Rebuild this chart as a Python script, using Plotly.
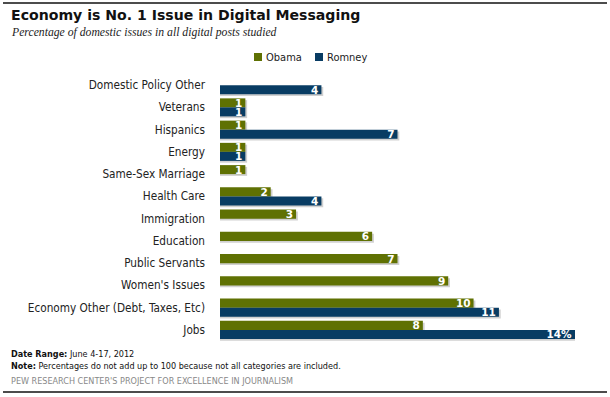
import plotly.graph_objects as go

categories = ["Domestic Policy Other", "Veterans", "Hispanics", "Energy", "Same-Sex Marriage",
              "Health Care", "Immigration", "Education", "Public Servants", "Women's Issues",
              "Economy Other (Debt, Taxes, Etc)", "Jobs"]
obama = [None, 1, 1, 1, 1, 2, 3, 6, 7, 9, 10, 8]
romney = [4, 1, 7, 1, None, 4, None, None, None, None, 11, 14]

OLIVE = "#5f7103"
NAVY = "#083c63"
SHADOW = "rgba(150,150,150,0.45)"

W, H = 610, 397
L, R, T, B = 220, 35, 74, 56
PW, PH = W - L - R, H - T - B

def X(px):
    return (px - L) / PW

def Y(py):
    return (H - B - py) / PH

def lab(vals, last_pct=False):
    out = []
    for i, v in enumerate(vals):
        if v is None:
            out.append("")
        else:
            s = str(v)
            if last_pct and i == len(vals) - 1:
                s += "%"
            out.append(s)
    return out

def shadow_vals(vals):
    return [None if v is None else v + 0.07 for v in vals]

BW = 0.405
SH = 0.08

fig = go.Figure()
fig.add_trace(go.Bar(y=categories, x=shadow_vals(obama), orientation="h", offset=-BW + SH, width=BW,
                     marker=dict(color=SHADOW, line=dict(width=0)), hoverinfo="skip"))
fig.add_trace(go.Bar(y=categories, x=shadow_vals(romney), orientation="h", offset=SH, width=BW,
                     marker=dict(color=SHADOW, line=dict(width=0)), hoverinfo="skip"))
bar_font = dict(family="DejaVu Sans", size=10.5, color="white", weight="bold")
fig.add_trace(go.Bar(y=categories, x=obama, orientation="h", name="Obama", offset=-BW, width=BW,
                     marker=dict(color=OLIVE, line=dict(width=0)),
                     text=lab(obama), textposition="inside", insidetextanchor="end", textangle=0,
                     textfont=bar_font, constraintext="none", cliponaxis=False))
fig.add_trace(go.Bar(y=categories, x=romney, orientation="h", name="Romney", offset=0, width=BW,
                     marker=dict(color=NAVY, line=dict(width=0)),
                     text=lab(romney, True), textposition="inside", insidetextanchor="end", textangle=0,
                     textfont=bar_font, constraintext="none", cliponaxis=False))

SANS = "DejaVu Sans Condensed, DejaVu Sans"
ann = []
ann.append(dict(text="<b>Economy is No. 1 Issue in Digital Messaging</b>", x=X(9), y=Y(15),
                xanchor="left", yanchor="middle",
                font=dict(family="DejaVu Sans", size=14.1, color="#111")))
ann.append(dict(text="<i>Percentage of domestic issues in all digital posts studied</i>", x=X(9), y=Y(32),
                xanchor="left", yanchor="middle",
                font=dict(family="Liberation Serif", size=11.7, color="#222")))
ann.append(dict(text="Obama", x=X(264), y=Y(57), xanchor="left", yanchor="middle",
                font=dict(family=SANS, size=11, color="#222")))
ann.append(dict(text="Romney", x=X(325), y=Y(57), xanchor="left", yanchor="middle",
                font=dict(family=SANS, size=11, color="#222")))
ann.append(dict(text="<b>Date Range:</b> June 4-17, 2012", x=X(9), y=Y(354), xanchor="left", yanchor="middle",
                font=dict(family=SANS, size=9, color="#111")))
ann.append(dict(text="<b>Note:</b> Percentages do not add up to 100 because not all categories are included.",
                x=X(9), y=Y(366), xanchor="left", yanchor="middle",
                font=dict(family=SANS, size=9, color="#111")))
ann.append(dict(text="PEW RESEARCH CENTER'S PROJECT FOR EXCELLENCE IN JOURNALISM",
                x=X(9), y=Y(381), xanchor="left", yanchor="middle",
                font=dict(family=SANS, size=9, color="#888")))
for a in ann:
    a.update(xref="paper", yref="paper", showarrow=False)

shapes = [
    dict(type="rect", xref="paper", yref="paper", x0=X(254), x1=X(262), y0=Y(53), y1=Y(61),
         fillcolor=OLIVE, line=dict(width=0)),
    dict(type="rect", xref="paper", yref="paper", x0=X(315), x1=X(323), y0=Y(53), y1=Y(61),
         fillcolor=NAVY, line=dict(width=0)),
    dict(type="line", xref="paper", yref="paper", x0=X(3), x1=X(607), y0=Y(3), y1=Y(3),
         line=dict(color="#111", width=1.5)),
    dict(type="line", xref="paper", yref="paper", x0=X(3), x1=X(607), y0=Y(392), y1=Y(392),
         line=dict(color="#111", width=1.5)),
]

fig.update_layout(
    width=W, height=H, margin=dict(l=L, r=R, t=T, b=B),
    paper_bgcolor="white", plot_bgcolor="white",
    barmode="overlay",
    showlegend=False, annotations=ann, shapes=shapes,
    xaxis=dict(range=[0, 14], visible=False, fixedrange=True),
    yaxis=dict(autorange="reversed", showgrid=False, showline=False, ticks="",
               ticklabelstandoff=14, fixedrange=True,
               tickfont=dict(family=SANS, size=11.7, color="#222")),
)
fig.write_html("out.html", config={"displayModeBar": False},
               post_script="document.body.style.margin='0';document.body.style.overflow='hidden';")
